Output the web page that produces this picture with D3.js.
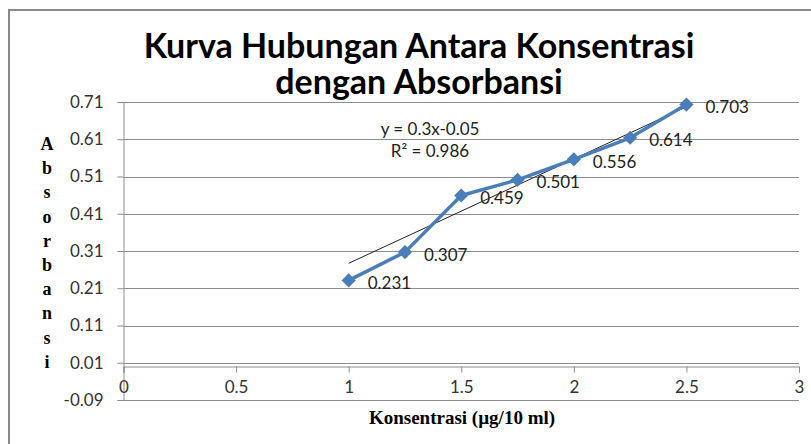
<!DOCTYPE html>
<html>
<head>
<meta charset="utf-8">
<script src="https://cdn.jsdelivr.net/npm/d3@7"></script>
<style>
  body { margin: 0; background: #fff; }
  svg { display: block; }
  .tick text { font-family: Lato, 'Open Sans', sans-serif; font-size: 17px; fill: #333; }
</style>
</head>
<body>
<div class="chart-wrapper"></div>
<script>
// data
const konsentrasi = [1, 1.25, 1.5, 1.75, 2, 2.25, 2.5];
const absorbansi = [0.231, 0.307, 0.459, 0.501, 0.556, 0.614, 0.703];
const xTicks = [0, 0.5, 1, 1.5, 2, 2.5, 3];
const yTicks = [-0.09, 0.01, 0.11, 0.21, 0.31, 0.41, 0.51, 0.61, 0.71];
// trendline ends as drawn in the picture
const trendX = [1, 2.5];
const trendY = [0.277, 0.697];
const equation = ['y = 0.3x-0.05', 'R² = 0.986'];

const width = 811, height = 444;
const margin = { top: 102, right: 12, bottom: 44, left: 123.5 };

const svg = d3.select('.chart-wrapper')
  .append('svg')
  .attr('width', width)
  .attr('height', height);

// chart border (cropped at right and bottom)
svg.append('rect')
  .attr('x', 9).attr('y', 10)
  .attr('width', 900).attr('height', 500)
  .attr('fill', 'none')
  .attr('stroke', '#8a8a8a')
  .attr('stroke-width', 2);

const x = d3.scaleLinear().domain([0, 3]).range([margin.left, width - margin.right]);
const y = d3.scaleLinear().domain([-0.09, 0.71]).range([height - margin.bottom, margin.top]);

// gridlines
svg.append('g')
  .selectAll('line')
  .data(yTicks)
  .enter()
  .append('line')
  .attr('x1', x(0)).attr('x2', x(3))
  .attr('y1', d => Math.round(y(d)) + 0.5)
  .attr('y2', d => Math.round(y(d)) + 0.5)
  .attr('stroke', '#8c8c8c')
  .attr('stroke-width', 1);

// y axis
const yAxis = d3.axisLeft(y)
  .tickValues(yTicks)
  .tickSize(6)
  .tickPadding(14)
  .tickFormat(d => d3.format('.2f')(d).replace('−', '-'));

svg.append('g')
  .attr('transform', 'translate(' + x(0) + ',0)')
  .call(yAxis)
  .call(g => g.selectAll('path, line').attr('stroke', '#8c8c8c'));

// x axis at y = 0
const xAxis = d3.axisBottom(x)
  .tickValues(xTicks)
  .tickSize(6)
  .tickPadding(8)
  .tickFormat(d => String(d));

svg.append('g')
  .attr('transform', 'translate(0,' + (Math.round(y(0)) + 0.5) + ')')
  .call(xAxis)
  .call(g => g.selectAll('path, line').attr('stroke', '#8c8c8c'));

// trendline
svg.append('line')
  .attr('x1', x(trendX[0])).attr('y1', y(trendY[0]))
  .attr('x2', x(trendX[1])).attr('y2', y(trendY[1]))
  .attr('stroke', '#222')
  .attr('stroke-width', 1);

// series line
const line = d3.line()
  .x((d, i) => x(konsentrasi[i]))
  .y(d => y(d));

svg.append('path')
  .datum(absorbansi)
  .attr('d', line)
  .attr('fill', 'none')
  .attr('stroke', '#4a7ebb')
  .attr('stroke-width', 3.5)
  .attr('stroke-linejoin', 'round');

// diamond markers
svg.append('g')
  .selectAll('path')
  .data(absorbansi)
  .enter()
  .append('path')
  .attr('d', d3.symbol().type(d3.symbolDiamond2).size(128))
  .attr('transform', (d, i) => 'translate(' + x(konsentrasi[i]) + ',' + y(d) + ')')
  .attr('fill', '#4a7ebb');

// data labels
svg.append('g')
  .selectAll('text')
  .data(absorbansi)
  .enter()
  .append('text')
  .attr('x', (d, i) => x(konsentrasi[i]) + 19)
  .attr('y', d => y(d) + 8.5)
  .attr('font-family', 'Lato, sans-serif')
  .attr('font-size', '17px')
  .attr('fill', '#222')
  .text(d => d3.format('.3f')(d));

// trendline equation
svg.append('g')
  .selectAll('text')
  .data(equation)
  .enter()
  .append('text')
  .attr('x', 430)
  .attr('y', (d, i) => 135 + i * 22)
  .attr('text-anchor', 'middle')
  .attr('font-family', 'Lato, sans-serif')
  .attr('font-size', '17px')
  .attr('fill', '#222')
  .text(d => d);

// title
const title = ['Kurva Hubungan Antara Konsentrasi', 'dengan Absorbansi'];
svg.append('g')
  .selectAll('text')
  .data(title)
  .enter()
  .append('text')
  .attr('x', 419)
  .attr('y', (d, i) => 58 + i * 36)
  .attr('text-anchor', 'middle')
  .attr('font-family', 'Lato, sans-serif')
  .attr('font-weight', '700')
  .attr('font-size', '34px')
  .attr('fill', '#000')
  .text(d => d);

// y axis title, stacked letters
const yTitle = 'Absorbansi'.split('');
svg.append('g')
  .selectAll('text')
  .data(yTitle)
  .enter()
  .append('text')
  .attr('x', 47)
  .attr('y', (d, i) => 150 + i * 24.2)
  .attr('text-anchor', 'middle')
  .attr('font-family', "'Liberation Serif', 'Times New Roman', serif")
  .attr('font-weight', '700')
  .attr('font-size', '18px')
  .attr('fill', '#000')
  .text(d => d);

// x axis title
svg.append('text')
  .attr('x', 462)
  .attr('y', 424)
  .attr('text-anchor', 'middle')
  .attr('font-family', "'Liberation Serif', 'Times New Roman', serif")
  .attr('font-weight', '700')
  .attr('font-size', '19px')
  .attr('fill', '#000')
  .text('Konsentrasi (µg/10 ml)');
</script>
</body>
</html>
